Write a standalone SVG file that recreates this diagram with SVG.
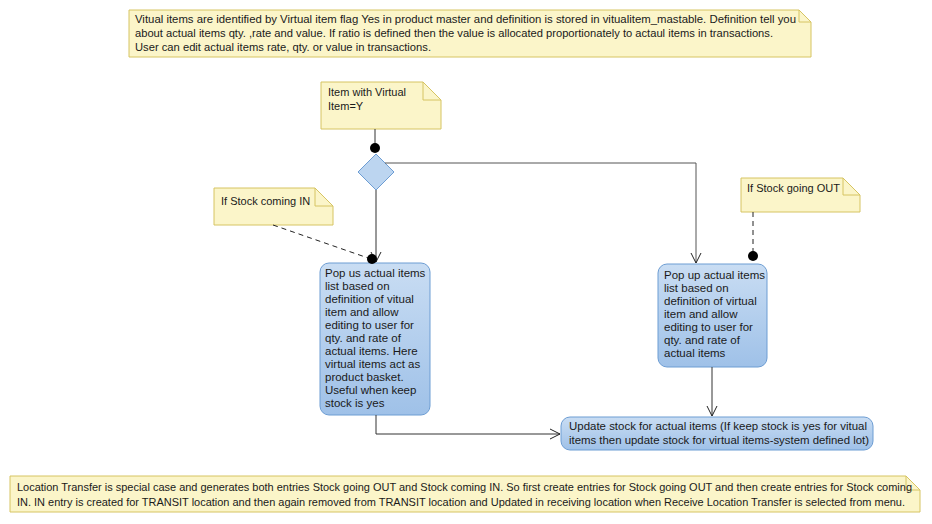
<svg xmlns="http://www.w3.org/2000/svg" width="932" height="524" viewBox="0 0 932 524">
<defs>
<linearGradient id="bg" x1="0" y1="0" x2="0" y2="1">
<stop offset="0" stop-color="#c9ddf3"/>
<stop offset="1" stop-color="#9fc1e8"/>
</linearGradient>
<marker id="arr" viewBox="0 0 12 12" refX="11" refY="6" markerWidth="12" markerHeight="12" markerUnits="userSpaceOnUse" orient="auto">
<path d="M1,1 L11,6 L1,11" fill="none" stroke="#222" stroke-width="1"/>
</marker>
<style>
.note{fill:#fbf5c9;stroke:#d6c462;stroke-width:1}
.fold{fill:none;stroke:#d6c462;stroke-width:1}
.box{fill:url(#bg);stroke:#6d9dd3;stroke-width:1}
.t{font-family:"Liberation Sans",Arial,sans-serif;font-size:11px;fill:#1a1a1a}
.tb{font-family:"Liberation Sans",Arial,sans-serif;font-size:11.5px;fill:#1a1a1a}
.c{fill:none;stroke:#333;stroke-width:1}
.cg{fill:none;stroke:#555;stroke-width:1}
.d{fill:none;stroke:#222;stroke-width:1;stroke-dasharray:5,4}
</style>
</defs>
<rect width="932" height="524" fill="#fff"/>

<g id="note-top">
<path class="note" d="M129,10 H799 L811,22 V57 H129 Z"/>
<path class="fold" d="M799,10 V22 H811"/>
<text class="t" x="135" y="23" textLength="661" lengthAdjust="spacingAndGlyphs">Vitual items are identified by Virtual item flag Yes in product master and definition is stored in vitualitem_mastable. Definition tell you</text>
<text class="t" x="135" y="37" textLength="638" lengthAdjust="spacingAndGlyphs">about actual items qty. ,rate and value. If ratio is defined then the value is allocated proportionately to actaul items in transactions.</text>
<text class="t" x="135" y="51" textLength="296" lengthAdjust="spacingAndGlyphs">User can edit actual items rate, qty. or value in transactions.</text>
</g>

<g id="note-virtual">
<path class="note" d="M321,82 H423 L441,100 V129 H321 Z"/>
<path class="fold" d="M423,82 V100 H441"/>
<text class="t" x="328" y="96">Item with Virtual</text>
<text class="t" x="328" y="110">Item=Y</text>
</g>

<g id="note-in">
<path class="note" d="M214,188 H315 L333,206 V225 H214 Z"/>
<path class="fold" d="M315,188 V206 H333"/>
<text class="t" x="221" y="205">If Stock coming IN</text>
</g>

<g id="note-out">
<path class="note" d="M741,178 H843 L860,195 V212 H741 Z"/>
<path class="fold" d="M843,178 V195 H860"/>
<text class="t" x="747" y="192">If Stock going OUT</text>
</g>

<g id="decision">
<polygon points="376,154 394,172 376,190 358,172" fill="#bcd5f0" stroke="#6d9dd3" stroke-width="1"/>
</g>

<g id="box-in">
<rect class="box" x="320" y="263" width="110" height="152" rx="9" ry="9"/>
<text class="tb" x="325" y="277">Pop us actual items</text>
<text class="tb" x="325" y="290">list based on</text>
<text class="tb" x="325" y="303">definition of vitual</text>
<text class="tb" x="325" y="316">item and allow</text>
<text class="tb" x="325" y="329">editing to user for</text>
<text class="tb" x="325" y="342">qty. and rate of</text>
<text class="tb" x="325" y="355">actual items. Here</text>
<text class="tb" x="325" y="368">virtual items act as</text>
<text class="tb" x="325" y="381">product basket.</text>
<text class="tb" x="325" y="394">Useful when keep</text>
<text class="tb" x="325" y="407">stock is yes</text>
</g>

<g id="box-out">
<rect class="box" x="658" y="264" width="109" height="103" rx="9" ry="9"/>
<text class="tb" x="664" y="279">Pop up actual items</text>
<text class="tb" x="664" y="292">list based on</text>
<text class="tb" x="664" y="305">definition of virtual</text>
<text class="tb" x="664" y="318">item and allow</text>
<text class="tb" x="664" y="331">editing to user for</text>
<text class="tb" x="664" y="344">qty. and rate of</text>
<text class="tb" x="664" y="357">actual items</text>
</g>

<g id="box-update">
<rect class="box" x="561" y="417" width="312" height="33" rx="9" ry="9"/>
<text class="tb" x="569" y="430" textLength="298" lengthAdjust="spacingAndGlyphs">Update stock for actual items (If keep stock is yes for vitual</text>
<text class="tb" x="569" y="444" textLength="300" lengthAdjust="spacingAndGlyphs">items then update stock for virtual items-system defined lot)</text>
</g>

<g id="note-bottom">
<path class="note" d="M10,476 H906 L920,490 V512 H10 Z"/>
<path class="fold" d="M906,476 V490 H920"/>
<text class="t" x="17" y="491" textLength="895" lengthAdjust="spacingAndGlyphs">Location Transfer is special case and generates both entries Stock going OUT and Stock coming IN. So first create entries for Stock going OUT and then create entries for Stock coming</text>
<text class="t" x="17" y="506" textLength="888" lengthAdjust="spacingAndGlyphs">IN. IN entry is created for TRANSIT location and then again removed from TRANSIT location and Updated in receiving location when Receive Location Transfer is selected from menu.</text>
</g>

<g id="connectors">
<line class="c" x1="375" y1="129" x2="375" y2="148"/>
<circle cx="375" cy="148" r="5" fill="#000"/>
<line class="c" x1="376" y1="190" x2="376" y2="262" marker-end="url(#arr)"/>
<polyline class="cg" points="385,163 696,163 696,263" marker-end="url(#arr)"/>
<line class="d" x1="273" y1="225" x2="371" y2="259"/>
<circle cx="372" cy="259" r="5" fill="#000"/>
<line class="d" x1="753" y1="212" x2="753" y2="256"/>
<circle cx="753" cy="256" r="5" fill="#000"/>
<line class="c" x1="712" y1="367" x2="712" y2="416" marker-end="url(#arr)"/>
<polyline class="c" points="376,415 376,434 560,434" marker-end="url(#arr)"/>
</g>
</svg>
